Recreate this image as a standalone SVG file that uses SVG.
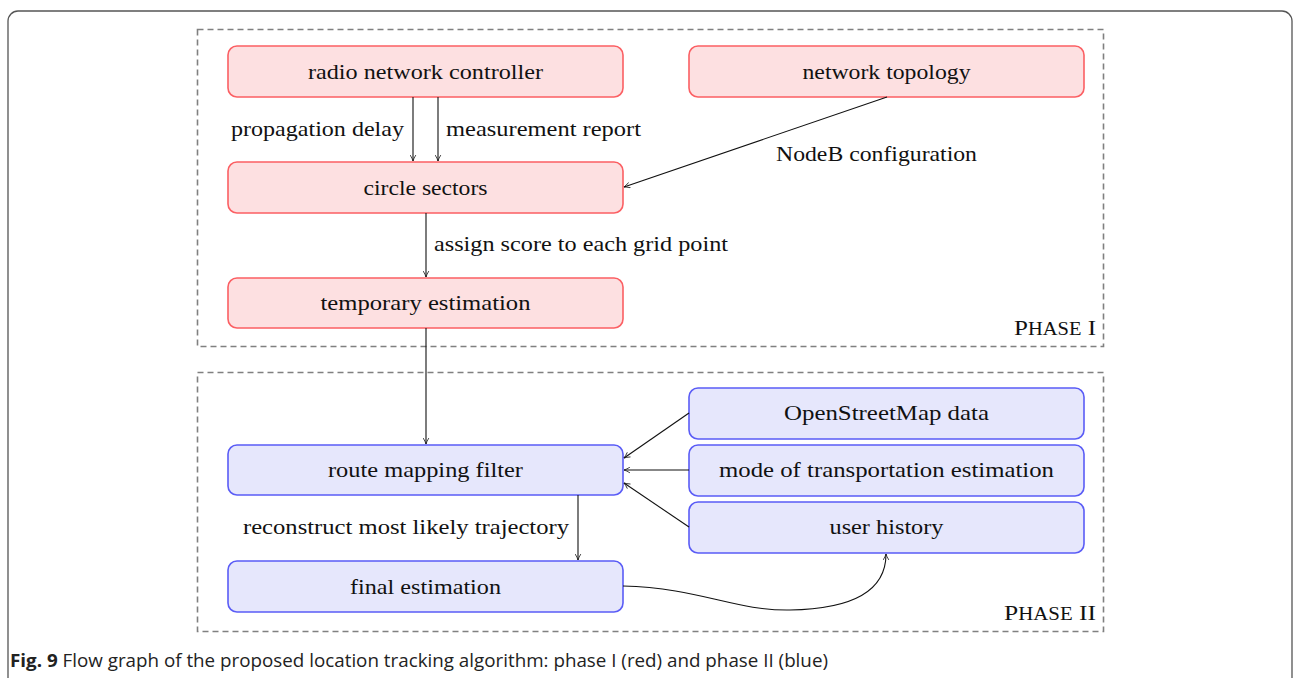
<svg xmlns="http://www.w3.org/2000/svg" width="1294" height="678" viewBox="0 0 1294 678">
<style>
.frame{fill:none;stroke:#555;stroke-width:1.3}
.phase{fill:none;stroke:#808080;stroke-width:1.6;stroke-dasharray:6 4}
.red{fill:#fde0e1;stroke:#fb5f63;stroke-width:1.6}
.blue{fill:#e6e7fc;stroke:#5a5cf6;stroke-width:1.6}
.t{font-family:"Liberation Serif","Times New Roman",serif;font-size:22px;fill:#111;text-anchor:middle}
.l{font-family:"Liberation Serif","Times New Roman",serif;font-size:22px;fill:#111}
.c{fill:none;stroke:#111;stroke-width:1.1}
.cap{font-family:"Open Sans","Liberation Sans",sans-serif;font-size:17.5px;fill:#222}
</style>
<defs>
<marker id="ah" viewBox="0 0 10 10" refX="9.5" refY="5" markerWidth="7" markerHeight="7" orient="auto" markerUnits="userSpaceOnUse">
<path d="M1,1 Q6,4 9.5,5 Q6,6 1,9" fill="none" stroke="#111" stroke-width="1.1"/>
</marker>
</defs>
<rect x="0" y="0" width="1294" height="678" fill="#fff"/>
<rect class="frame" x="8" y="11" width="1284" height="700" rx="10"/>
<g id="phase1">
<rect class="phase" x="197.5" y="29.5" width="906" height="317"/>
<text class="l" x="1096" y="335" text-anchor="end" font-size="23" textLength="82" lengthAdjust="spacingAndGlyphs">P<tspan font-size="18">HASE</tspan> I</text>
</g>
<g id="phase2">
<rect class="phase" x="197.5" y="372.5" width="906" height="259"/>
<text class="l" x="1096" y="620" text-anchor="end" font-size="23" textLength="92" lengthAdjust="spacingAndGlyphs">P<tspan font-size="18">HASE</tspan> II</text>
</g>
<g id="rnc"><rect class="red" x="228" y="46" width="395" height="51" rx="9"/><text class="t" x="425.5" y="79" textLength="235" lengthAdjust="spacingAndGlyphs">radio network controller</text></g>
<g id="topology"><rect class="red" x="689" y="46" width="395" height="51" rx="9"/><text class="t" x="886.5" y="79" textLength="168" lengthAdjust="spacingAndGlyphs">network topology</text></g>
<g id="sectors"><rect class="red" x="228" y="162" width="395" height="51" rx="9"/><text class="t" x="425.5" y="195" textLength="124" lengthAdjust="spacingAndGlyphs">circle sectors</text></g>
<g id="temporary"><rect class="red" x="228" y="278" width="395" height="50" rx="9"/><text class="t" x="425.5" y="310" textLength="210" lengthAdjust="spacingAndGlyphs">temporary estimation</text></g>
<g id="route"><rect class="blue" x="228" y="445" width="395" height="50" rx="9"/><text class="t" x="425.5" y="477" textLength="195" lengthAdjust="spacingAndGlyphs">route mapping filter</text></g>
<g id="osm"><rect class="blue" x="689" y="388" width="395" height="51" rx="9"/><text class="t" x="886.5" y="420" textLength="205" lengthAdjust="spacingAndGlyphs">OpenStreetMap data</text></g>
<g id="mode"><rect class="blue" x="689" y="445" width="395" height="51" rx="9"/><text class="t" x="886.5" y="477" textLength="335" lengthAdjust="spacingAndGlyphs">mode of transportation estimation</text></g>
<g id="history"><rect class="blue" x="689" y="502" width="395" height="51" rx="9"/><text class="t" x="886.5" y="534" textLength="114" lengthAdjust="spacingAndGlyphs">user history</text></g>
<g id="final"><rect class="blue" x="228" y="561" width="395" height="51" rx="9"/><text class="t" x="425.5" y="594" textLength="151" lengthAdjust="spacingAndGlyphs">final estimation</text></g>
<g id="connectors">
<line class="c" x1="413" y1="97" x2="413" y2="161" marker-end="url(#ah)"/>
<text class="l" x="404" y="136" text-anchor="end" textLength="173" lengthAdjust="spacingAndGlyphs">propagation delay</text>
<line class="c" x1="438" y1="97" x2="438" y2="161" marker-end="url(#ah)"/>
<text class="l" x="446" y="136" textLength="195" lengthAdjust="spacingAndGlyphs">measurement report</text>
<line class="c" x1="887" y1="97" x2="624" y2="187" marker-end="url(#ah)"/>
<text class="l" x="776" y="161" textLength="201" lengthAdjust="spacingAndGlyphs">NodeB configuration</text>
<line class="c" x1="426" y1="213" x2="426" y2="277" marker-end="url(#ah)"/>
<text class="l" x="434" y="251" textLength="294" lengthAdjust="spacingAndGlyphs">assign score to each grid point</text>
<line class="c" x1="426" y1="328" x2="426" y2="444" marker-end="url(#ah)"/>
<line class="c" x1="689" y1="413" x2="624" y2="458" marker-end="url(#ah)"/>
<line class="c" x1="689" y1="470" x2="624" y2="470" marker-end="url(#ah)"/>
<line class="c" x1="689" y1="527" x2="624" y2="483" marker-end="url(#ah)"/>
<line class="c" x1="578" y1="495" x2="578" y2="560" marker-end="url(#ah)"/>
<text class="l" x="569" y="534" text-anchor="end" textLength="326" lengthAdjust="spacingAndGlyphs">reconstruct most likely trajectory</text>
<path class="c" d="M623,586 C700,588 735,611 790,610 C850,609 886,592 886,554" marker-end="url(#ah)"/>
</g>
<text class="cap" x="10" y="667" textLength="818" lengthAdjust="spacingAndGlyphs"><tspan font-weight="bold">Fig. 9</tspan> Flow graph of the proposed location tracking algorithm: phase I (red) and phase II (blue)</text>
</svg>
